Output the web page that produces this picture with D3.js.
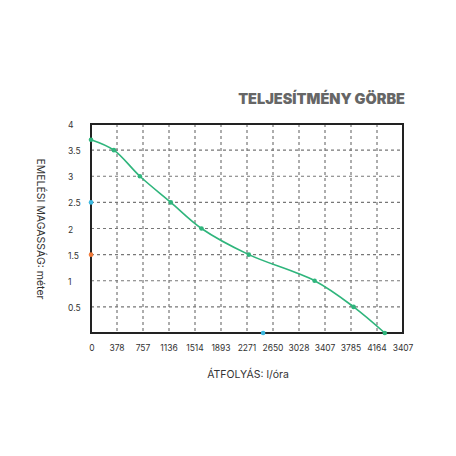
<!DOCTYPE html>
<html><head><meta charset="utf-8">
<script src="https://cdn.jsdelivr.net/npm/d3@7"></script>
<style>body{margin:0;background:#fff}text{font-family:"Inter","Noto Sans",sans-serif}</style>
</head><body><div id="chart"></div>
<script>
const xTickLabels = ["0","378","757","1136","1514","1893","2271","2650","3028","3407","3785","4164","3407"]
const yTicks = [0.5,1,1.5,2,2.5,3,3.5,4]
// curve points: x in tick-index units, y in meters
const curveX = [0, 0.88, 1.88, 3.07, 4.25, 6.07, 8.6, 10.1, 11.3]
const curveY = [3.7, 3.5, 3.0, 2.5, 2.0, 1.5, 1.0, 0.5, 0.0]
const markerX = [0, 0, 6.62]
const markerY = [2.5, 1.5, 0]
const markerColor = ["#3bb8e0", "#f07a3a", "#3bb8e0"]

const svg = d3.select("#chart").append("svg").attr("width", 456).attr("height", 456)
const x = d3.scaleLinear().domain([0, 12]).range([91, 403])
const y = d3.scaleLinear().domain([0, 4]).range([333, 124])

// grid
svg.selectAll(".vgrid").data(d3.range(1, 12)).enter().append("line")
    .attr("x1", d => x(d)).attr("x2", d => x(d)).attr("y1", y(4)).attr("y2", y(0))
    .attr("stroke", "#777").attr("stroke-width", 1.2).attr("stroke-dasharray", "3,3")
svg.selectAll(".hgrid").data(yTicks.slice(0, -1)).enter().append("line")
    .attr("x1", x(0)).attr("x2", x(12)).attr("y1", d => y(d)).attr("y2", d => y(d))
    .attr("stroke", "#777").attr("stroke-width", 1.2).attr("stroke-dasharray", "3,3")

svg.append("rect").attr("x", x(0)).attr("y", y(4)).attr("width", x(12) - x(0)).attr("height", y(0) - y(4))
    .attr("fill", "none").attr("stroke", "#222").attr("stroke-width", 2)

// tick labels
svg.selectAll(".yl").data(yTicks).enter().append("text")
    .attr("x", 68).attr("y", d => y(d) + 4).text(d => d)
    .attr("font-size", 8.5).attr("fill", "#333")
svg.selectAll(".xl").data(xTickLabels).enter().append("text")
    .attr("x", (d, i) => x(i) + (i === 0 ? 1 : 0)).attr("y", 351).attr("text-anchor", "middle").text(d => d)
    .attr("font-size", 8.5).attr("fill", "#333")

// curve
const pts = curveX.map((d, i) => [d, curveY[i]])
svg.append("path").datum(pts)
    .attr("d", d3.line().x(d => x(d[0])).y(d => y(d[1])).curve(d3.curveCatmullRom))
    .attr("fill", "none").attr("stroke", "#2fb57c").attr("stroke-width", 1.6)
svg.selectAll(".pt").data(pts).enter().append("circle")
    .attr("cx", d => x(d[0])).attr("cy", d => y(d[1])).attr("r", 2.3).attr("fill", "#2fb57c")
svg.selectAll(".mk").data(markerX).enter().append("circle")
    .attr("cx", d => x(d)).attr("cy", (d, i) => y(markerY[i])).attr("r", 2.3).attr("fill", (d, i) => markerColor[i])

// titles
svg.append("text").attr("x", 405).attr("y", 104).attr("text-anchor", "end")
    .attr("font-size", 14.5).attr("font-weight", "900").attr("fill", "#666").text("TELJESÍTMÉNY GÖRBE")
svg.append("text").attr("x", 248).attr("y", 378).attr("text-anchor", "middle")
    .attr("font-size", 10.5).attr("fill", "#333").text("ÁTFOLYÁS: l/óra")
svg.append("text").attr("transform", "translate(37,229) rotate(90)").attr("text-anchor", "middle")
    .attr("font-size", 10.5).attr("fill", "#333").text("EMELÉSI MAGASSÁG: méter")
</script></body></html>
